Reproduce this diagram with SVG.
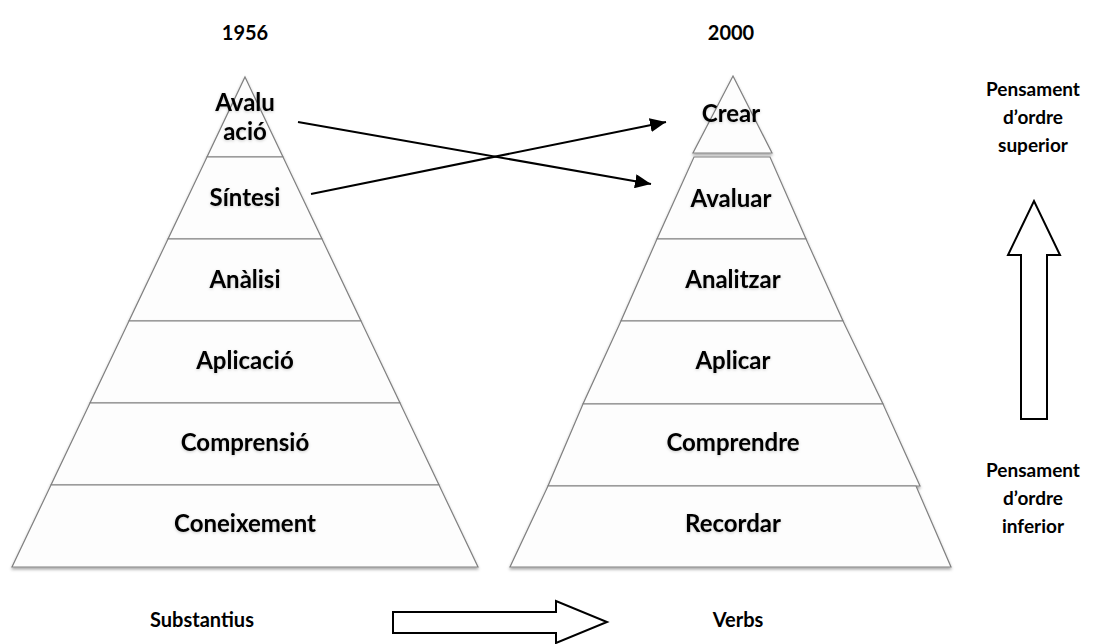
<svg xmlns="http://www.w3.org/2000/svg" width="1105" height="644" viewBox="0 0 1105 644">
  <style>
    .layer { fill: #fdfdfd; stroke: #808080; stroke-width: 1.2; filter: url(#shade); }
    .lbl { font-family: Lato, "Open Sans", "Liberation Sans", sans-serif; font-weight: 700; font-size: 19px; fill: #000; text-anchor: middle; }
    .head { font-size: 20px; }
    .in { font-size: 24px; filter: url(#glow); }
    .link { stroke: #000; stroke-width: 2; fill: none; marker-end: url(#head); }
    .block { fill: #fff; stroke: #000; stroke-width: 2; stroke-linejoin: miter; }
  </style>
  <defs>
    <filter id="shade" x="-10%" y="-10%" width="120%" height="130%">
      <feDropShadow dx="0" dy="2" stdDeviation="1.6" flood-color="#000" flood-opacity="0.35"/>
    </filter>
    <filter id="glow" x="-20%" y="-30%" width="140%" height="160%">
      <feDropShadow dx="0" dy="1" stdDeviation="1.5" flood-color="#000" flood-opacity="0.2"/>
    </filter>
    <marker id="head" viewBox="0 0 16 14" refX="16" refY="7" markerWidth="8" markerHeight="7" markerUnits="strokeWidth" orient="auto">
      <path d="M0,0 L16,7 L0,14 z" fill="#000"/>
    </marker>
  </defs>

  <!-- column headings -->
  <text class="lbl head" x="245" y="40">1956</text>
  <text class="lbl head" x="731" y="40">2000</text>

  <!-- 1956 taxonomy -->
  <g id="avaluacio">
    <polygon class="layer" points="245,77 283,157 207,157"/>
    <text class="lbl in" x="245" y="111">Avalu</text>
    <text class="lbl in" x="245" y="140">ació</text>
  </g>
  <g id="sintesi">
    <polygon class="layer" points="207,157 283,157 322,239 168,239"/>
    <text class="lbl in" x="245" y="206">Síntesi</text>
  </g>
  <g id="analisi">
    <polygon class="layer" points="168,239 322,239 361,321 129,321"/>
    <text class="lbl in" x="245" y="288">Anàlisi</text>
  </g>
  <g id="aplicacio">
    <polygon class="layer" points="129,321 361,321 400,403 90,403"/>
    <text class="lbl in" x="245" y="369">Aplicació</text>
  </g>
  <g id="comprensio">
    <polygon class="layer" points="90,403 400,403 439,485 51,485"/>
    <text class="lbl in" x="245" y="451">Comprensió</text>
  </g>
  <g id="coneixement">
    <polygon class="layer" points="51,485 439,485 478,567 12,567"/>
    <text class="lbl in" x="245" y="532">Coneixement</text>
  </g>

  <!-- 2000 taxonomy -->
  <g id="crear">
    <polygon class="layer" points="733,76 772,153 693,153"/>
    <text class="lbl in" x="731" y="122">Crear</text>
  </g>
  <g id="avaluar">
    <polygon class="layer" points="694,157 770,157 806,239 657,239"/>
    <text class="lbl in" x="731" y="207">Avaluar</text>
  </g>
  <g id="analitzar">
    <polygon class="layer" points="657,239 806,239 843,321 621,321"/>
    <text class="lbl in" x="733" y="288">Analitzar</text>
  </g>
  <g id="aplicar">
    <polygon class="layer" points="621,321 843,321 883,404 583,404"/>
    <text class="lbl in" x="733" y="369">Aplicar</text>
  </g>
  <g id="comprendre">
    <polygon class="layer" points="583,404 883,404 920,486 548,486"/>
    <text class="lbl in" x="733" y="451">Comprendre</text>
  </g>
  <g id="recordar">
    <polygon class="layer" points="548,486 916,486 951,567 510,567"/>
    <text class="lbl in" x="733" y="532">Recordar</text>
  </g>

  <!-- thinking order scale -->
  <g id="superior">
    <text class="lbl" x="1033" y="96">Pensament</text>
    <text class="lbl" x="1033" y="124">d’ordre</text>
    <text class="lbl" x="1033" y="152">superior</text>
  </g>
  <g id="inferior">
    <text class="lbl" x="1033" y="477">Pensament</text>
    <text class="lbl" x="1033" y="505">d’ordre</text>
    <text class="lbl" x="1033" y="533">inferior</text>
  </g>
  <g id="scale-arrow">
    <polygon class="block" points="1021,419 1021,255 1008,255 1034,201 1060,255 1047,255 1047,419"/>
  </g>

  <!-- nouns to verbs -->
  <g id="substantius">
    <text class="lbl head" x="202" y="627">Substantius</text>
  </g>
  <g id="verbs">
    <text class="lbl head" x="738" y="627">Verbs</text>
  </g>
  <g id="shift-arrow">
    <polygon class="block" points="393,612 556,612 556,601 607,622 556,643 556,633 393,633"/>
  </g>

  <!-- renamed levels -->
  <g id="connectors">
    <line class="link" x1="298" y1="122" x2="651" y2="184"/>
    <line class="link" x1="311" y1="194" x2="666" y2="122"/>
  </g>
</svg>
